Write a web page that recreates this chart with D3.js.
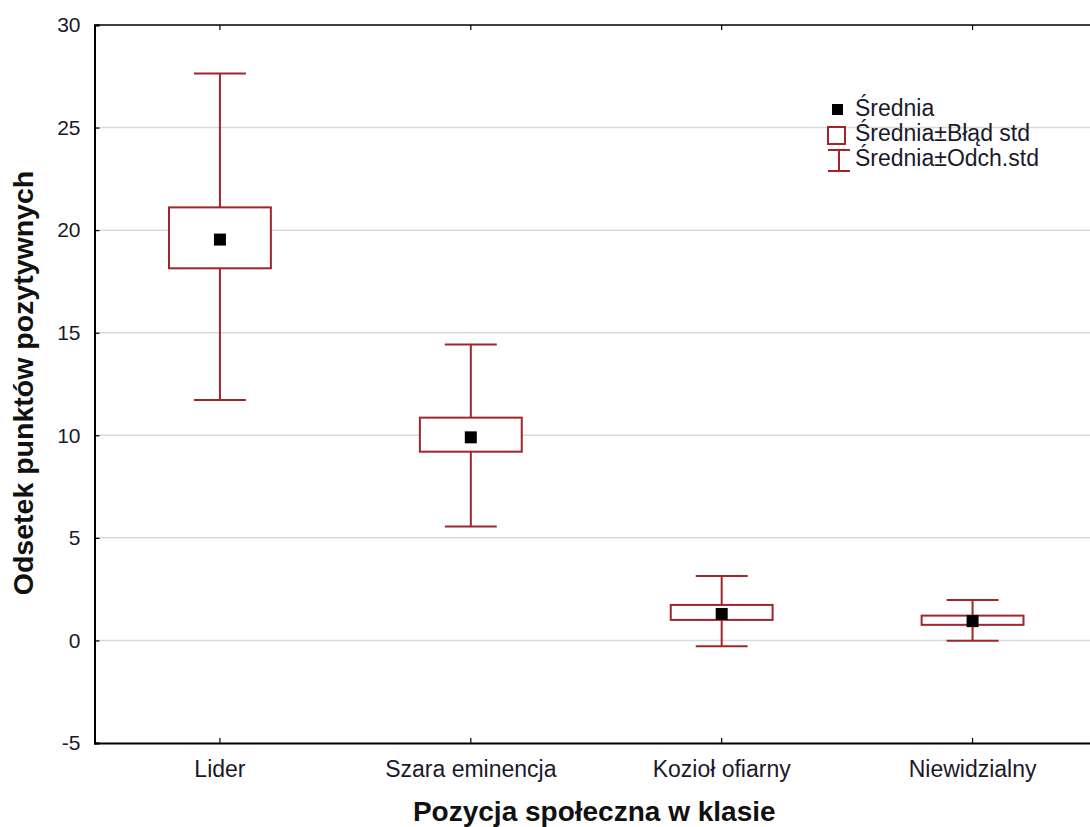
<!DOCTYPE html>
<html>
<head>
<meta charset="utf-8">
<script src="https://cdn.jsdelivr.net/npm/d3@7.9.0/dist/d3.min.js"></script>
<style>
  body { margin: 0; background: #fff; }
  svg { display: block; font-family: "Liberation Sans", Arial, sans-serif; }
</style>
</head>
<body>
<svg id="chart" width="1090" height="827"></svg>
<script>
// data
const categories = ['Lider', 'Szara eminencja', 'Kozioł ofiarny', 'Niewidzialny'];
const means = [19.54, 9.90, 1.29, 0.94];
const seHigh = [21.11, 10.86, 1.73, 1.21];
const seLow = [18.14, 9.20, 1.00, 0.76];
const sdHigh = [27.64, 14.42, 3.14, 1.97];
const sdLow = [11.72, 5.55, -0.28, -0.01];
const yTicks = [-5, 0, 5, 10, 15, 20, 25, 30];
const legendLabels = ['Średnia', 'Średnia±Błąd std', 'Średnia±Odch.std'];

const red = '#a0262a';
const svg = d3.select('#chart');
const plotLeft = 94.5, plotRight = 1098, plotTop = 25, plotBottom = 743;

const x = d3.scaleBand().domain(categories).range([plotLeft, plotRight]);
const y = d3.scaleLinear().domain([-5, 30]).range([plotBottom, plotTop]);

// grid lines
svg.append('g')
  .selectAll('line')
  .data(yTicks.filter(t => t > -5 && t < 30))
  .join('line')
  .attr('x1', plotLeft).attr('x2', plotRight)
  .attr('y1', d => y(d)).attr('y2', d => y(d))
  .attr('stroke', '#d9d9d9')
  .attr('stroke-width', 1.5);

// frame
svg.append('line').attr('x1', plotLeft).attr('x2', plotRight).attr('y1', plotTop).attr('y2', plotTop)
  .attr('stroke', '#000').attr('stroke-width', 1.5);

// y axis
const yAxis = svg.append('g')
  .attr('transform', `translate(${plotLeft},0)`)
  .call(d3.axisRight(y).tickValues(yTicks).tickSize(5).tickFormat(d => String(d)));
yAxis.select('.domain').attr('stroke', '#000').attr('stroke-width', 2);
yAxis.selectAll('.tick line').attr('stroke', '#000').attr('stroke-width', 1.2);
yAxis.selectAll('.tick text')
  .attr('x', -14)
  .attr('text-anchor', 'end')
  .attr('font-size', 21)
  .attr('fill', '#1a1a2a');

// x axis
const xAxis = svg.append('g')
  .attr('transform', `translate(0,${plotBottom})`)
  .call(d3.axisTop(x).tickSize(5));
xAxis.select('.domain').attr('stroke', '#000').attr('stroke-width', 2);
xAxis.selectAll('.tick line').attr('stroke', '#000').attr('stroke-width', 1.2);
xAxis.selectAll('.tick text')
  .attr('y', 34)
  .attr('font-size', 23)
  .attr('fill', '#1a1a2a');

// top ticks
svg.append('g')
  .attr('transform', `translate(0,${plotTop})`)
  .call(d3.axisBottom(x).tickSize(5).tickFormat(''))
  .call(g => g.select('.domain').remove())
  .selectAll('.tick line').attr('stroke', '#000').attr('stroke-width', 1.2);

// axis titles
svg.append('text')
  .attr('x', (plotLeft + plotRight) / 2 - 2)
  .attr('y', 821)
  .attr('text-anchor', 'middle')
  .attr('font-size', 28)
  .attr('font-weight', 'bold')
  .attr('fill', '#111')
  .text('Pozycja społeczna w klasie');

svg.append('text')
  .attr('transform', `translate(33,${(plotTop + plotBottom) / 2 - 1}) rotate(-90)`)
  .attr('text-anchor', 'middle')
  .attr('font-size', 28.5)
  .attr('font-weight', 'bold')
  .attr('fill', '#111')
  .text('Odsetek punktów pozytywnych');

// box plots
const boxW = x.bandwidth() * 0.406;
const capW = x.bandwidth() * 0.207;
const groups = svg.append('g')
  .selectAll('g')
  .data(categories)
  .join('g')
  .attr('transform', d => `translate(${x(d) + x.bandwidth() / 2},0)`);

groups.append('line')
  .attr('y1', (d, i) => y(sdHigh[i])).attr('y2', (d, i) => y(seHigh[i]))
  .attr('stroke', red).attr('stroke-width', 2);
groups.append('line')
  .attr('y1', (d, i) => y(seLow[i])).attr('y2', (d, i) => y(sdLow[i]))
  .attr('stroke', red).attr('stroke-width', 2);
groups.append('line')
  .attr('x1', -capW / 2).attr('x2', capW / 2)
  .attr('y1', (d, i) => y(sdHigh[i])).attr('y2', (d, i) => y(sdHigh[i]))
  .attr('stroke', red).attr('stroke-width', 2);
groups.append('line')
  .attr('x1', -capW / 2).attr('x2', capW / 2)
  .attr('y1', (d, i) => y(sdLow[i])).attr('y2', (d, i) => y(sdLow[i]))
  .attr('stroke', red).attr('stroke-width', 2);
groups.append('rect')
  .attr('x', -boxW / 2).attr('width', boxW)
  .attr('y', (d, i) => y(seHigh[i]))
  .attr('height', (d, i) => y(seLow[i]) - y(seHigh[i]))
  .attr('fill', '#fff').attr('stroke', red).attr('stroke-width', 2);
groups.append('rect')
  .attr('x', -6).attr('width', 12)
  .attr('y', (d, i) => y(means[i]) - 6).attr('height', 12)
  .attr('fill', '#000');

// legend
const legend = svg.append('g').attr('transform', 'translate(838,0)');
const rowY = [110, 135, 160];
legend.append('rect').attr('x', -6).attr('y', rowY[0] - 6).attr('width', 11).attr('height', 11).attr('fill', '#000');
legend.append('rect').attr('x', -10).attr('y', rowY[1] - 8).attr('width', 17).attr('height', 17)
  .attr('fill', '#fff').attr('stroke', red).attr('stroke-width', 2);
legend.append('path')
  .attr('d', `M-10,${rowY[2] - 10}H12M1,${rowY[2] - 10}V${rowY[2] + 11}M-10,${rowY[2] + 11}H12`)
  .attr('fill', 'none').attr('stroke', red).attr('stroke-width', 2);
legend.selectAll('text.leg')
  .data(legendLabels)
  .join('text')
  .attr('class', 'leg')
  .attr('x', 17)
  .attr('y', (d, i) => rowY[i] + 6)
  .attr('font-size', 23)
  .attr('fill', '#1a1a2a')
  .text(d => d);
</script>
</body>
</html>
